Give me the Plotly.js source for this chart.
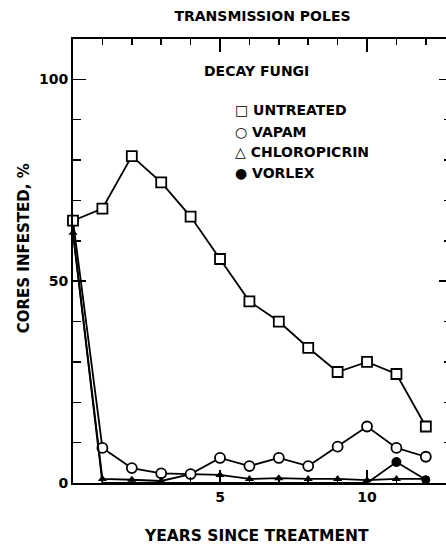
<!DOCTYPE html>
<html>
<head>
<meta charset="utf-8">
<script src="https://cdn.plot.ly/plotly-3.0.1.min.js"></script>
<style>html,body{margin:0;padding:0;background:#fff;overflow:hidden;width:446px;height:546px;}#chart{width:452px;height:546px;}</style>
</head>
<body>
<div id="chart"></div>
<script>
// Years since treatment
var years = [0, 1, 2, 3, 4, 5, 6, 7, 8, 9, 10, 11, 12];
// Cores infested, %
var untreated    = [65, 68, 81, 74.5, 66, 55.5, 45, 40, 33.5, 27.5, 30, 27, 14];
var vapam        = [65, 8.7, 3.7, 2.4, 2.2, 6.2, 4.2, 6.2, 4.2, 9, 14, 8.7, 6.5];
var chloropicrin = [62, 1, 0.8, 0.5, 2.2, 2, 1, 1.2, 1, 1, 0.7, 1, 1];
var vorlex       = [62, 0, 0, 0, 0, 0, 0, 0, 0, 0, 0, 5.2, 0.8];
// Text
var chartTitle = "TRANSMISSION POLES";
var panelLabel = "DECAY FUNGI";
var xTitle = "YEARS SINCE TREATMENT";
var yTitle = "CORES INFESTED, %";
var seriesNames = ["UNTREATED", "VAPAM", "CHLOROPICRIN", "VORLEX"];
var legendSymbols = ["\u25A1", "\u25CB", "\u25B3", "\u25CF"];
var yTickVals = [0, 50, 100];
var yTickText = ["0", "50", "100"];
var xTickVals = [0, 5, 10];
var xTickText = ["", "5", "10"];

var FONT = "DejaVu Sans, Liberation Sans, sans-serif";
function f(size) { return {family: FONT, size: size, color: "black", weight: "bold"}; }
var lineStyle = {color: "black", width: 1.8};

var traces = [
  {x: years, y: chloropicrin, name: seriesNames[2], mode: "lines+markers", line: lineStyle,
   marker: {symbol: "triangle-up", color: "black", size: 8}, cliponaxis: false},
  {x: years, y: vapam, name: seriesNames[1], mode: "lines+markers", line: lineStyle,
   marker: {symbol: "circle", color: "white", size: 10, line: {color: "black", width: 1.8}}, cliponaxis: false},
  {x: years, y: untreated, name: seriesNames[0], mode: "lines+markers", line: lineStyle,
   marker: {symbol: "square", color: "white", size: 10, line: {color: "black", width: 1.8}}, cliponaxis: false},
  {x: years, y: vorlex, name: seriesNames[3], mode: "lines+markers", line: lineStyle,
   marker: {symbol: "circle", color: "black", opacity: 1, size: [0,0,0,0,0,0,0,0,0,0,0,9,8],
            line: {color: "black", width: 1}}, cliponaxis: false}
];

var annotations = [
  {text: panelLabel, xref: "paper", yref: "paper", x: 0.483, y: 0.928, showarrow: false,
   xanchor: "center", yanchor: "middle", font: f(14)},
  {text: xTitle, xref: "paper", yref: "paper", x: 0.483, y: -0.119, showarrow: false,
   xanchor: "center", yanchor: "middle", font: f(15.5)},
  {text: yTitle, xref: "paper", yref: "paper", x: -0.129, y: 0.529, showarrow: false, textangle: -90,
   xanchor: "center", yanchor: "middle", font: f(15)}
];
var legendY = [0.840, 0.791, 0.745, 0.698];
for (var i = 0; i < seriesNames.length; i++) {
  annotations.push({text: legendSymbols[i] + " " + seriesNames[i], xref: "paper", yref: "paper",
    x: 0.422, y: legendY[i], showarrow: false, xanchor: "left", yanchor: "middle",
    font: f(14)});
}

var layout = {
  width: 452, height: 546,
  margin: {l: 73, r: 0, t: 39, b: 63},
  paper_bgcolor: "white", plot_bgcolor: "white",
  showlegend: false,
  font: f(14),
  title: {text: chartTitle, xref: "paper", x: 0.5, xanchor: "center", y: 0.971, yanchor: "middle",
          font: f(14)},
  xaxis: {range: [0, 12.89], showgrid: false, zeroline: false, showline: true, linecolor: "black", linewidth: 2,
          mirror: "ticks", ticks: "inside", ticklen: 13, tickwidth: 1.5, tickcolor: "black",
          tickmode: "array", tickvals: xTickVals, ticktext: xTickText,
          minor: {tickmode: "linear", tick0: 0, dtick: 1, ticks: "inside", ticklen: 6, tickwidth: 1.5, tickcolor: "black"},
          tickfont: f(14)},
  yaxis: {range: [0, 110], showgrid: false, zeroline: false, showline: true, linecolor: "black", linewidth: 2,
          mirror: "ticks", ticks: "inside", ticklen: 13, tickwidth: 1.5, tickcolor: "black",
          tickmode: "array", tickvals: yTickVals, ticktext: yTickText,
          minor: {tickmode: "linear", tick0: 0, dtick: 10, ticks: "inside", ticklen: 8, tickwidth: 1.5, tickcolor: "black"},
          tickfont: f(14)},
  annotations: annotations
};

Plotly.newPlot("chart", traces, layout, {displayModeBar: false, staticPlot: true});
</script>
</body>
</html>
